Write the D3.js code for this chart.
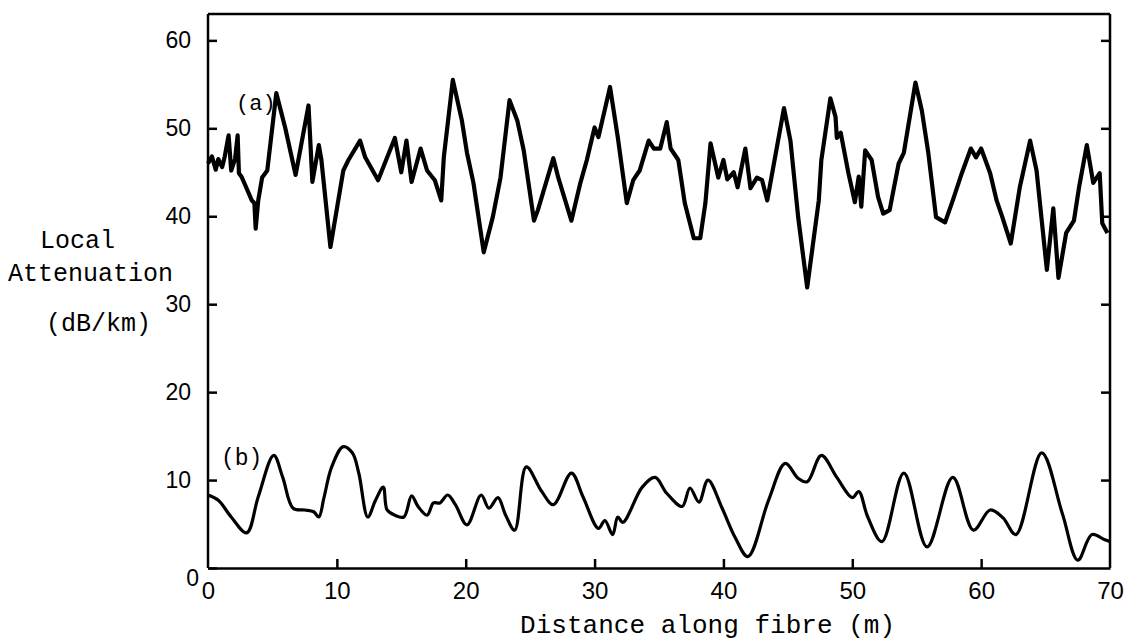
<!DOCTYPE html>
<html>
<head>
<meta charset="utf-8">
<script src="https://cdn.jsdelivr.net/npm/d3@7"></script>
<style>
    body { margin: 0; background: #fff; }
    svg { display: block; }
    .axis path, .axis line { stroke: #000; stroke-width: 2.5; }
    .axis text { font-family: "Liberation Sans", sans-serif; fill: #000; }
    .lbl { font-family: "Liberation Mono", monospace; fill: #000; }
</style>
</head>
<body>
<svg id="chart" width="1126" height="642"></svg>
<script>
// distance along fibre (m) and local attenuation (dB/km)
let distA = [0, 0.3, 0.6, 0.8, 1.1, 1.3, 1.6, 1.8, 2.1, 2.3, 2.4, 2.6, 2.9, 3.4, 3.6, 3.7, 3.9, 4.2, 4.6,
    5.3, 6.0, 6.8, 7.8, 8.1, 8.6, 8.8, 9.5, 10.5, 10.9, 11.8, 12.2, 13.2, 14.5, 15.0, 15.4, 15.8,
    16.5, 17.0, 17.6, 18.1, 18.3, 19.0, 19.7, 20.1, 20.6, 21.4, 22.1, 22.7, 23.4, 24.0, 24.5, 25.3,
    25.6, 26.8, 27.2, 28.2, 28.9, 29.4, 30.0, 30.3, 31.2, 31.8, 32.5, 33.0, 33.5, 34.2, 34.6, 35.1,
    35.6, 35.9, 36.5, 37.0, 37.7, 38.2, 38.6, 39.0, 39.6, 40.0, 40.3, 40.8, 41.1, 41.7, 42.1, 42.6,
    43.0, 43.4, 44.7, 45.2, 45.8, 46.5, 47.4, 47.6, 48.3, 48.7, 48.8, 49.1, 49.7, 50.2, 50.5, 50.7,
    51.0, 51.5, 52.0, 52.4, 52.9, 53.2, 53.6, 54.0, 54.9, 55.4, 55.9, 56.5, 57.2, 57.8, 58.5, 59.2,
    59.6, 60.0, 60.7, 61.2, 61.6, 62.3, 63.0, 63.8, 64.3, 65.1, 65.6, 66.0, 66.6, 67.2, 67.6, 68.2,
    68.7, 69.2, 69.4, 69.8];
let attenA = [46.0, 46.8, 45.3, 46.5, 45.6, 46.8, 49.2, 45.2, 46.5, 49.2, 44.9, 44.5, 43.5, 41.8, 41.5, 38.6, 41.8, 44.4, 45.2,
    54.0, 50.0, 44.7, 52.6, 43.9, 48.1, 46.4, 36.5, 45.2, 46.4, 48.6, 46.7, 44.1, 48.9, 45.0, 48.6, 43.9,
    47.7, 45.2, 44.1, 41.8, 46.7, 55.5, 50.9, 47.2, 43.8, 35.9, 39.9, 44.4, 53.2, 50.9, 47.5, 39.5,
    40.7, 46.6, 44.3, 39.5, 43.8, 46.4, 50.1, 49.0, 54.7, 49.0, 41.5, 44.1, 45.2, 48.6, 47.7, 47.7,
    50.7, 47.7, 46.4, 41.5, 37.5, 37.5, 41.5, 48.3, 44.4, 46.4, 44.2, 45.0, 43.3, 47.7, 43.2, 44.4,
    44.1, 41.8, 52.3, 48.6, 39.9, 31.9, 41.8, 46.4, 53.4, 51.3, 48.9, 49.5, 44.9, 41.6, 44.5, 41.1,
    47.5, 46.4, 42.2, 40.3, 40.7, 43.0, 46.0, 47.2, 55.2, 52.0, 47.2, 39.9, 39.3, 41.8, 44.9, 47.7,
    46.7, 47.7, 44.9, 41.8, 40.1, 36.9, 43.3, 48.6, 45.2, 33.9, 40.9, 33.0, 38.1, 39.5, 43.3, 48.1,
    43.8, 44.9, 39.2, 38.1];

let distB = [0, 0.8, 1.8, 3.0, 3.9, 5.1, 5.8, 6.6, 7.5, 8.2, 8.6, 9.0, 9.6, 10.5, 11.2, 11.7, 12.4, 13.0,
    13.6, 13.9, 14.5, 15.2, 15.8, 16.3, 17.0, 17.5, 18.0, 18.6, 19.2, 20.1, 21.2, 21.8, 22.5, 23.1,
    23.8, 24.7, 25.9, 26.8, 28.2, 29.1, 30.3, 30.8, 31.4, 31.8, 32.2, 33.7, 34.7, 35.6, 36.8, 37.4,
    38.1, 38.8, 39.9, 40.9, 41.9, 43.5, 44.8, 45.8, 46.5, 47.6, 48.8, 50.0, 50.5, 51.2, 52.3, 54.0,
    55.8, 57.8, 59.4, 60.7, 61.7, 62.7, 64.7, 66.3, 67.5, 68.6, 69.6, 70];
let attenB = [8.3, 7.7, 5.8, 4.0, 8.1, 12.8, 10.3, 6.8, 6.6, 6.4, 5.8, 8.0, 11.5, 13.8, 13.1, 10.8, 5.8, 7.7,
    9.2, 6.6, 6.0, 5.8, 8.2, 7.0, 6.0, 7.4, 7.4, 8.3, 7.2, 4.9, 8.3, 6.8, 8.0, 6.0,
    4.3, 11.5, 8.7, 7.2, 10.8, 8.1, 4.5, 5.4, 3.8, 5.8, 5.2, 9.2, 10.3, 8.5, 7.0, 9.1,
    7.5, 10.0, 6.8, 3.5, 1.3, 7.7, 11.9, 10.2, 9.8, 12.8, 10.3, 8.0, 8.7, 5.8, 3.0, 10.8,
    2.4, 10.3, 4.3, 6.6, 5.7, 3.8, 13.1, 6.2, 0.9, 3.8, 3.2, 3.0];

let xTicks = [0, 10, 20, 30, 40, 50, 60, 70];
let yTicks = [0, 10, 20, 30, 40, 50, 60];

(function () {
    let svg = d3.select("#chart");

    let x = d3.scaleLinear().domain([0, 70]).range([208, 1110]);
    let y = d3.scaleLinear().domain([0, 63]).range([568, 14]);

    // frame: top line
    svg.append("line")
        .attr("x1", x(0)).attr("x2", x(70))
        .attr("y1", y(63)).attr("y2", y(63))
        .attr("stroke", "#000").attr("stroke-width", 2.5);

    let left = svg.append("g").attr("class", "axis")
        .attr("transform", `translate(${x(0)},0)`)
        .call(d3.axisLeft(y).tickValues(yTicks).tickSize(-9).tickPadding(17).tickSizeOuter(0));
    left.selectAll("text").style("font-size", "23px");
    left.selectAll(".tick").filter(d => d === 0).select("text").attr("dy", "0.75em").attr("x", -9);

    let right = svg.append("g").attr("class", "axis")
        .attr("transform", `translate(${x(70)},0)`)
        .call(d3.axisRight(y).tickValues(yTicks.slice(1)).tickSize(-9).tickFormat("").tickSizeOuter(0));

    let bottom = svg.append("g").attr("class", "axis")
        .attr("transform", `translate(0,${y(0)})`)
        .call(d3.axisBottom(x).tickValues(xTicks).tickSize(-9).tickPadding(14).tickSizeOuter(0));
    bottom.selectAll("text").style("font-size", "24px");
    bottom.selectAll(".tick").filter(d => d === 0 || d === 70).select("line").remove();

    // extend the left / right axis lines up to the top of the frame
    left.select(".domain").attr("d", `M0,${y(0)}V${y(63)}`);
    right.select(".domain").attr("d", `M0,${y(0)}V${y(63)}`);

    let lineA = d3.line()
        .x((d, i) => x(distA[i]))
        .y(d => y(d));
    let lineB = d3.line()
        .x((d, i) => x(distB[i]))
        .y(d => y(d))
        .curve(d3.curveCatmullRom.alpha(0.5));

    svg.append("path")
        .attr("d", lineA(attenA))
        .attr("fill", "none")
        .attr("stroke", "#000")
        .attr("stroke-width", 4.2)
        .attr("stroke-linejoin", "round");

    svg.append("path")
        .attr("d", lineB(attenB))
        .attr("fill", "none")
        .attr("stroke", "#000")
        .attr("stroke-width", 3.2)
        .attr("stroke-linejoin", "round");

    // curve labels
    svg.append("text").attr("class", "lbl").attr("x", 236).attr("y", 110)
        .style("font-size", "22px").text("(a)");
    svg.append("text").attr("class", "lbl").attr("x", 221).attr("y", 465)
        .style("font-size", "23px").text("(b)");

    // axis titles
    let yTitle = [
        {x: 40, y: 248, text: "Local"},
        {x: 8, y: 281, text: "Attenuation"},
        {x: 46, y: 331, text: "(dB/km)"}
    ];
    svg.append("g").selectAll("text")
        .data(yTitle).enter().append("text")
        .attr("class", "lbl")
        .attr("x", d => d.x)
        .attr("y", d => d.y)
        .style("font-size", "25px")
        .text(d => d.text);

    svg.append("text").attr("class", "lbl")
        .attr("x", 520).attr("y", 633)
        .attr("textLength", 375)
        .style("font-size", "26px")
        .text("Distance along fibre (m)");
})();
</script>
</body>
</html>
